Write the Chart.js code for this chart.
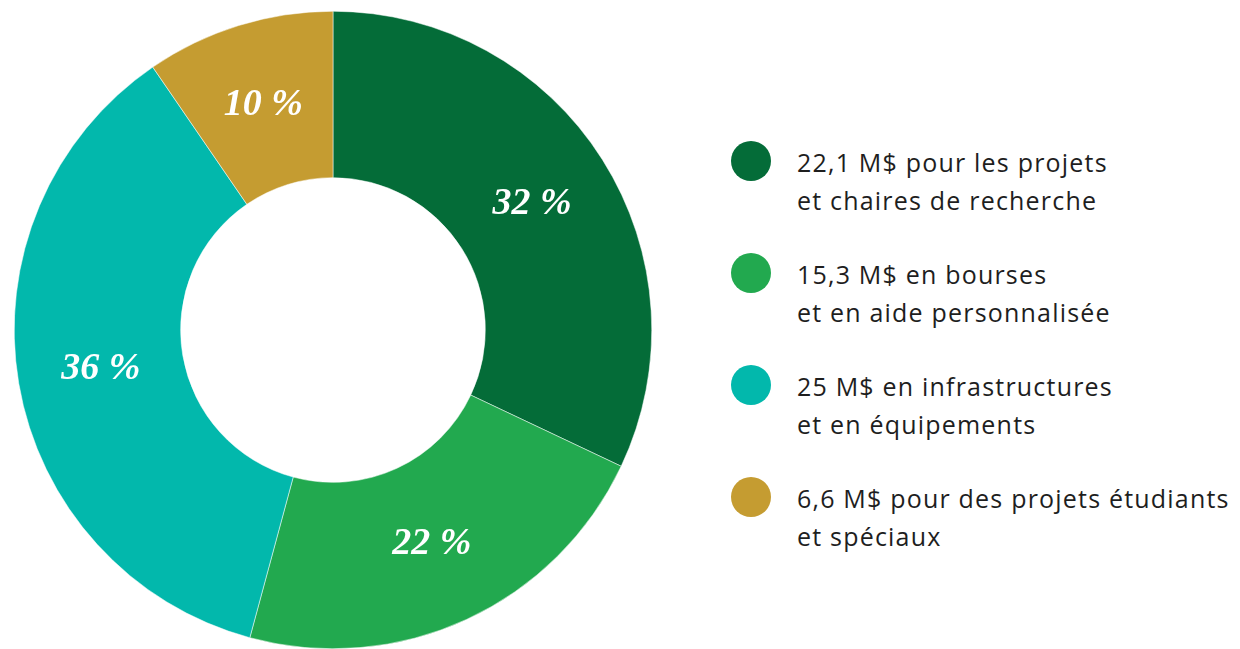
<!DOCTYPE html>
<html lang="fr">
<head>
<meta charset="utf-8">
<script src="https://cdn.jsdelivr.net/npm/chart.js@4"></script>
<style>
  html, body { margin: 0; padding: 0; background: #fff; }
  body { width: 1240px; height: 649px; position: relative; overflow: hidden; }
  #chart-box { position: absolute; left: 14px; top: 11px; width: 638px; height: 638px; }
  #legende { position: absolute; left: 731px; top: 141px; font-family: "Open Sans", "Noto Sans", sans-serif; font-size: 25px; letter-spacing: 1.2px; color: #1e1e1e; }
  .item { display: flex; align-items: flex-start; height: 112px; }
  .pastille { width: 40px; height: 40px; border-radius: 50%; flex: none; margin-right: 26px; }
  .texte { line-height: 38px; margin-top: 2px; white-space: nowrap; }
</style>
</head>
<body>
<div id="chart-box"><canvas id="graficaDons"></canvas></div>
<div id="legende"></div>

<script>
// Données (en millions de dollars)
const categories = [
    ["22,1 M$ pour les projets", "et chaires de recherche"],
    ["15,3 M$ en bourses", "et en aide personnalisée"],
    ["25 M$ en infrastructures", "et en équipements"],
    ["6,6 M$ pour des projets étudiants", "et spéciaux"]
];
const montants = [22.1, 15.3, 25, 6.6];
const pourcentages = ["32 %", "22 %", "36 %", "10 %"];
const couleurs = ["#046c38", "#22a94f", "#02b8ac", "#c59c31"];

// Légende en HTML
const legende = document.getElementById('legende');
let html = '';
categories.forEach((lignes, i) => {
    html += `<div class="item"><div class="pastille" style="background:${couleurs[i]}"></div>
        <div class="texte">${lignes.join('<br>')}</div></div>`;
});
legende.innerHTML = html;

// Plugin pour écrire les pourcentages au milieu de chaque part
const etiquettes = {
    id: 'etiquettes',
    afterDatasetsDraw(chart) {
        const ctx = chart.ctx;
        const meta = chart.getDatasetMeta(0);
        ctx.save();
        ctx.fillStyle = '#ffffff';
        ctx.font = 'italic bold 38px "Liberation Serif", "DejaVu Serif", serif';
        ctx.textAlign = 'center';
        ctx.textBaseline = 'middle';
        meta.data.forEach((arc, i) => {
            const p = arc.tooltipPosition();
            ctx.fillText(pourcentages[i], p.x, p.y);
        });
        ctx.restore();
    }
};

const ctx = document.getElementById('graficaDons').getContext('2d');
new Chart(ctx, {
    type: 'doughnut',
    data: {
        labels: categories.map(l => l.join(' ')),
        datasets: [{
            data: montants,
            backgroundColor: couleurs,
            borderColor: '#ffffff',
            borderWidth: 0.5
        }]
    },
    options: {
        responsive: true,
        maintainAspectRatio: false,
        animation: false,
        cutout: '47.8%',
        layout: { padding: 0 },
        plugins: {
            legend: { display: false },
            tooltip: { enabled: false }
        }
    },
    plugins: [etiquettes]
});
</script>
</body>
</html>
